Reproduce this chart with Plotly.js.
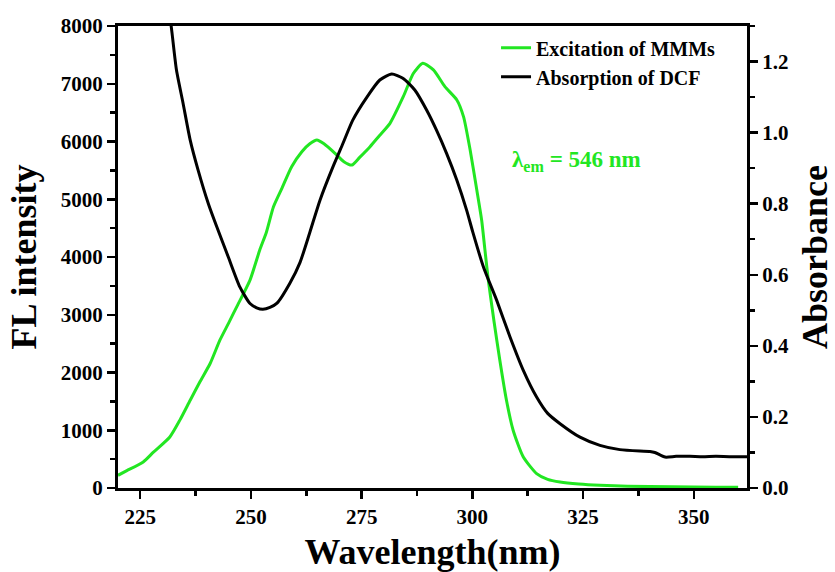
<!DOCTYPE html>
<html>
<head>
<meta charset="utf-8">
<script src="https://cdn.plot.ly/plotly-3.0.1.min.js"></script>
<style>html,body{margin:0;padding:0;background:#fff;}#chart{width:835px;height:572px;}</style>
</head>
<body>
<div id="chart"></div>
<script>
// Excitation of MMMs (left axis, FL intensity)
const excitationWavelength = [220, 222, 225.7, 228, 231.7, 234, 236.3, 238.5, 240.8, 243, 245, 246.8, 249.8, 252, 253.5, 255.1, 257, 259.2, 261.5, 263.3, 264.9, 266.5, 269, 271, 272.8, 274.5, 276.9, 279, 281.4, 284.4, 286.7, 288.8, 291.2, 293.8, 296.5, 298, 299.5, 301, 302.1, 302.8, 303.6, 304.9, 306.2, 307.7, 309.2, 311.5, 314.5, 317, 319.8, 324, 328.8, 335, 345, 355, 360];
const excitationIntensity = [220, 300, 450, 620, 884, 1180, 1520, 1840, 2156, 2560, 2860, 3137, 3600, 4120, 4430, 4870, 5190, 5563, 5823, 5960, 6026, 5960, 5795, 5650, 5592, 5720, 5910, 6100, 6315, 6776, 7181, 7355, 7239, 6950, 6719, 6430, 5852, 5160, 4636, 4150, 3600, 2880, 2213, 1520, 1000, 537, 250, 150, 104, 70, 47, 30, 20, 15, 12];

// Absorption of DCF (right axis, Absorbance)
const absorptionWavelength = [231.7, 232.2, 233.2, 234.7, 236.3, 238.1, 240.4, 242.3, 244.9, 247.5, 249.8, 251.3, 252.7, 254.3, 255.9, 258.8, 261.1, 263.3, 265.6, 268.5, 270.8, 273.0, 276.2, 279.1, 281.8, 284.3, 287, 289.7, 291.9, 294.2, 296.5, 298.7, 300.1, 302.5, 305.5, 308.5, 311.5, 314.5, 317, 319.8, 324.3, 328.8, 333.3, 337.8, 340.1, 341.2, 343.5, 346, 349.1, 352, 355, 358, 362];
const absorbance = [1.33, 1.28, 1.176, 1.082, 0.979, 0.894, 0.80, 0.735, 0.65, 0.566, 0.519, 0.507, 0.503, 0.508, 0.520, 0.576, 0.635, 0.719, 0.810, 0.903, 0.970, 1.035, 1.100, 1.148, 1.165, 1.153, 1.12, 1.063, 1.007, 0.941, 0.866, 0.782, 0.72, 0.622, 0.528, 0.425, 0.331, 0.256, 0.21, 0.181, 0.143, 0.12, 0.108, 0.104, 0.103, 0.100, 0.087, 0.089, 0.089, 0.088, 0.089, 0.088, 0.088];

const seriesNames = ['Excitation of MMMs', 'Absorption of DCF'];
const annotationText = 'λ<sub>em</sub> = 546 nm';
const xTitle = 'Wavelength(nm)';
const yTitle = 'FL intensity';
const y2Title = 'Absorbance';

const GREEN = '#22e622';
const FONT = 'Liberation Serif, Times New Roman, serif';
const tickFont = {family: FONT, size: 21, color: '#000', weight: 'bold'};
const titleFont = {family: FONT, size: 36, color: '#000', weight: 'bold'};

const traces = [
  {x: excitationWavelength, y: excitationIntensity, name: seriesNames[0], type: 'scatter', mode: 'lines',
   line: {color: GREEN, width: 3, shape: 'spline', smoothing: 0.6}, yaxis: 'y'},
  {x: absorptionWavelength, y: absorbance, name: seriesNames[1], type: 'scatter', mode: 'lines',
   line: {color: '#000', width: 3, shape: 'spline', smoothing: 0.6}, yaxis: 'y2'}
];

const layout = {
  width: 835, height: 572,
  margin: {l: 118, r: 88, t: 26, b: 84},
  paper_bgcolor: '#fff', plot_bgcolor: '#fff',
  showlegend: true,
  legend: {x: 0.601, y: 0.995, xanchor: 'left', yanchor: 'top', bgcolor: 'rgba(0,0,0,0)',
           font: {family: FONT, size: 20, color: '#000', weight: 'bold'}, tracegroupgap: 0},
  xaxis: {
    range: [220, 362], tick0: 0, dtick: 25, ticks: 'outside', ticklen: 8, tickwidth: 2.5, tickcolor: '#000',
    showline: true, linewidth: 3, linecolor: '#000', mirror: true, showgrid: false, zeroline: false,
    tickfont: tickFont,
    minor: {dtick: 12.5, ticks: 'outside', ticklen: 5, tickwidth: 2.5, tickcolor: '#000'},
    title: {text: xTitle, font: titleFont, standoff: 13}
  },
  yaxis: {
    range: [0, 8000], dtick: 1000, ticks: 'outside', ticklen: 8, tickwidth: 2.5, tickcolor: '#000',
    showline: true, linewidth: 3, linecolor: '#000', showgrid: false, zeroline: false,
    tickfont: tickFont,
    minor: {dtick: 500, ticks: 'outside', ticklen: 5, tickwidth: 2.5, tickcolor: '#000'},
    title: {text: yTitle, font: titleFont, standoff: 14}
  },
  yaxis2: {
    overlaying: 'y', side: 'right',
    range: [0, 1.3], dtick: 0.2, tickformat: '.1f', ticks: 'outside', ticklen: 8, tickwidth: 2.5, tickcolor: '#000',
    showline: true, linewidth: 3, linecolor: '#000', showgrid: false, zeroline: false,
    tickfont: tickFont,
    minor: {dtick: 0.1, ticks: 'outside', ticklen: 5, tickwidth: 2.5, tickcolor: '#000'},
    title: {text: y2Title, font: titleFont, standoff: 15}
  },
  annotations: [
    {text: annotationText, xref: 'paper', yref: 'paper', x: 0.624, y: 0.708, xanchor: 'left', yanchor: 'middle',
     showarrow: false, font: {family: FONT, size: 23, color: GREEN, weight: 'bold'}}
  ]
};

Plotly.newPlot('chart', traces, layout, {displayModeBar: false, staticPlot: true});
</script>
</body>
</html>
